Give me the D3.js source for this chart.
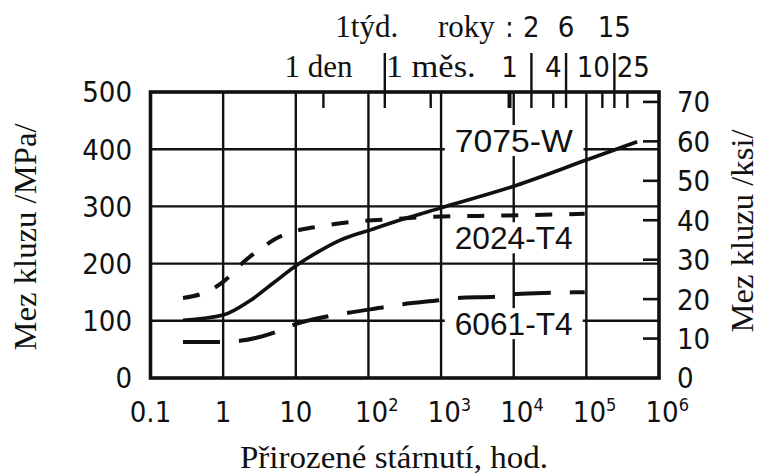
<!DOCTYPE html>
<html>
<head>
<meta charset="utf-8">
<script src="https://cdn.jsdelivr.net/npm/d3@7"></script>
<style>
    body { margin: 0; background: white; }
    .num { font-family: "Liberation Sans Narrow", "DejaVu Sans Condensed", "Liberation Sans", sans-serif; fill: #111; }
    .ser { font-family: "Liberation Serif", "DejaVu Serif", serif; fill: #111; }
    .lab { font-family: "Liberation Sans", Arial, sans-serif; fill: #111; }
</style>
</head>
<body>
<div id="chart"></div>
<script>
// yield strength ticks (MPa, left) and (ksi, right)
const mpaTicks = [0, 100, 200, 300, 400, 500];
const ksiTicks = [0, 10, 20, 30, 40, 50, 60, 70];
// bottom axis: natural ageing, hours (log)
const hourTicks = [0.1, 1, 10, 100, 1e3, 1e4, 1e5, 1e6];
const hourLabels = ["0.1", "1", "10", "10|2", "10|3", "10|4", "10|5", "10|6"];

// top axis: time marks in hours (as drawn in the source), long = tall tick
const topTickHours = [24, 168, 720, 8760, 17520, 35040, 52560, 166000, 243000, 367000];
const topTickLong = [false, true, false, false, true, false, true, false, true, false];
const topTickText = ["1 den", "1týd.", "1 měs.", "1", "2", "4", "6", "10", "15", "25"];

// curves: hours -> yield strength MPa
const hours7075 = [0.28, 1, 2.4, 4.9, 10.5, 20, 41, 107, 343, 970, 11000, 100000, 500000];
const mpa7075 = [101, 110, 136, 166, 198, 220, 241, 259, 280, 297, 337, 381, 413];

const hours2024 = [0.28, 0.5, 1, 2, 3.3, 5.2, 9.3, 17, 30, 72, 250, 730, 7400, 95000];
const mpa2024 = [140, 147, 168, 205, 226, 243, 256, 263, 268, 274, 278, 282, 284, 287];

const hours6061 = [0.28, 0.92, 1.7, 5.2, 9.3, 28, 53, 170, 300, 960, 1700, 5500, 11000, 33000, 95000];
const mpa6061 = [63, 63, 65, 80, 93, 108, 114, 124, 129, 136, 140, 142, 147, 149, 150];

const alloyNames = ["7075-W", "2024-T4", "6061-T4"];
const alloyLabelMpa = [395, 225, 75];

function init() {
    const w = 759;
    const h = 475;
    const MPA_PER_KSI = 6.895;

    const svg = d3.select("#chart")
        .append("svg")
        .attr("width", w)
        .attr("height", h);

    const x = d3.scaleLog()
        .domain([0.1, 1e6])
        .range([150.5, 659]);

    const y = d3.scaleLinear()
        .domain([0, 500])
        .range([378, 92]);

    const yKsi = d3.scaleLinear()
        .domain([0, 500 / MPA_PER_KSI])
        .range([378, 92]);

    const x0 = x.range()[0], x1 = x.range()[1];
    const y0 = y.range()[0], y1 = y.range()[1];

    // grid
    const grid = svg.append("g").attr("stroke", "#111").attr("stroke-width", 2.4);
    grid.selectAll(".vg")
        .data(hourTicks.slice(1, -1))
        .enter().append("line")
        .attr("x1", d => x(d)).attr("x2", d => x(d))
        .attr("y1", y1).attr("y2", y0);
    grid.selectAll(".hg")
        .data(mpaTicks.slice(1, -1))
        .enter().append("line")
        .attr("x1", x0).attr("x2", x1)
        .attr("y1", d => y(d)).attr("y2", d => y(d));

    // right ksi ticks (inward)
    svg.append("g").attr("stroke", "#111").attr("stroke-width", 2.6)
        .selectAll("line")
        .data(ksiTicks.slice(1))
        .enter().append("line")
        .attr("x1", x1 - 16).attr("x2", x1)
        .attr("y1", d => yKsi(d)).attr("y2", d => yKsi(d));

    // top time ticks
    svg.append("g").attr("stroke", "#111")
        .selectAll("line")
        .data(topTickHours)
        .enter().append("line")
        .attr("stroke-width", (d, i) => i === 3 ? 4 : 2.4)
        .attr("x1", d => x(d)).attr("x2", d => x(d))
        .attr("y1", (d, i) => topTickLong[i] ? 53 : y1)
        .attr("y2", y1 + 16);

    // alloy labels with white boxes that break the grid
    const labels = svg.append("g");
    alloyNames.forEach(function (name, i) {
        const g = labels.append("g");
        const rect = g.append("rect").attr("fill", "white");
        const t = g.append("text")
            .attr("class", "lab")
            .attr("x", x(1e4))
            .attr("y", y(alloyLabelMpa[i]))
            .attr("text-anchor", "middle")
            .attr("font-size", 31)
            .attr("textLength", 118)
            .attr("lengthAdjust", "spacingAndGlyphs")
            .text(name);
        const b = t.node().getBBox();
        rect.attr("x", b.x - 10).attr("y", b.y + 1)
            .attr("width", b.width + 20).attr("height", b.height - 4);
    });

    // curves
    const line = d3.line()
        .x(d => x(d[0]))
        .y(d => y(d[1]))
        .curve(d3.curveMonotoneX);

    const curves = [
        { h: hours7075, v: mpa7075, dash: null, sw: 3.6 },
        { h: hours2024, v: mpa2024, dash: "17 17", sw: 4 },
        { h: hours6061, v: mpa6061, dash: "37 19", sw: 4 }
    ];
    curves.forEach(function (c) {
        svg.append("path")
            .datum(d3.zip(c.h, c.v))
            .attr("d", line)
            .attr("fill", "none")
            .attr("stroke", "#111")
            .attr("stroke-width", c.sw)
            .attr("stroke-dasharray", c.dash);
    });

    // frame
    svg.append("rect")
        .attr("x", x0).attr("y", y1)
        .attr("width", x1 - x0).attr("height", y0 - y1)
        .attr("fill", "none")
        .attr("stroke", "#111")
        .attr("stroke-width", 3.6);

    // left tick labels
    svg.append("g").selectAll("text")
        .data(mpaTicks)
        .enter().append("text")
        .attr("class", "num")
        .attr("x", 132)
        .attr("y", d => y(d))
        .attr("dy", "0.36em")
        .attr("text-anchor", "end")
        .attr("font-size", 29)
        .text(d => d);

    // right tick labels
    svg.append("g").selectAll("text")
        .data(ksiTicks)
        .enter().append("text")
        .attr("class", "num")
        .attr("x", 677)
        .attr("y", d => yKsi(d))
        .attr("dy", "0.36em")
        .attr("font-size", 29)
        .text(d => d);

    // bottom tick labels, "10|n" means 10 to the n
    const bl = svg.append("g").selectAll("text")
        .data(hourTicks)
        .enter().append("text")
        .attr("class", "num")
        .attr("y", 422)
        .attr("font-size", 29);
    bl.each(function (d, i) {
        const parts = hourLabels[i].split("|");
        const t = d3.select(this);
        if (parts.length === 1) {
            t.attr("x", x(d)).attr("text-anchor", "middle").text(parts[0]);
        } else {
            t.attr("x", x(d) - 13.5);
            t.append("tspan").text(parts[0]);
            t.append("tspan").attr("dy", -11).attr("font-size", 18).text(parts[1]);
        }
    });

    // top axis labels
    const topRow = { "1týd.": 0, "2": 0, "6": 0, "15": 0 };
    const topShift = { "1týd.": -18, "1 den": -5, "10": -9, "25": 6 };
    const tl = svg.append("g");
    topTickText.forEach(function (txt, i) {
        const upper = topRow[txt] === 0;
        const serif = isNaN(+txt);
        const t = tl.append("text")
            .attr("class", serif ? "ser" : "num")
            .attr("x", x(topTickHours[i]) + (topShift[txt] || 0))
            .attr("y", upper ? 37 : 77)
            .attr("text-anchor", "middle")
            .attr("font-size", serif ? 31 : 29)
            .text(txt);
        if (txt === "1 měs.") {
            t.attr("textLength", 90).attr("lengthAdjust", "spacingAndGlyphs");
        }
    });
    tl.append("text")
        .attr("class", "ser")
        .attr("x", 438)
        .attr("y", 37)
        .attr("font-size", 31)
        .text("roky");
    tl.append("text")
        .attr("class", "num")
        .attr("x", 505)
        .attr("y", 37)
        .attr("font-size", 29)
        .text(":");

    // axis titles
    svg.append("text")
        .attr("class", "ser")
        .attr("transform", "translate(36,237) rotate(-90)")
        .attr("text-anchor", "middle")
        .attr("font-size", 32)
        .attr("textLength", 227)
        .attr("lengthAdjust", "spacingAndGlyphs")
        .text("Mez kluzu /MPa/");

    svg.append("text")
        .attr("class", "ser")
        .attr("transform", "translate(753,231) rotate(-90)")
        .attr("text-anchor", "middle")
        .attr("font-size", 31)
        .attr("textLength", 203)
        .attr("lengthAdjust", "spacingAndGlyphs")
        .text("Mez kluzu /ksi/");

    svg.append("text")
        .attr("class", "ser")
        .attr("x", 394)
        .attr("y", 468)
        .attr("text-anchor", "middle")
        .attr("font-size", 31)
        .attr("textLength", 308)
        .attr("lengthAdjust", "spacingAndGlyphs")
        .text("Přirozené stárnutí, hod.");
}

window.onload = init;
</script>
</body>
</html>
